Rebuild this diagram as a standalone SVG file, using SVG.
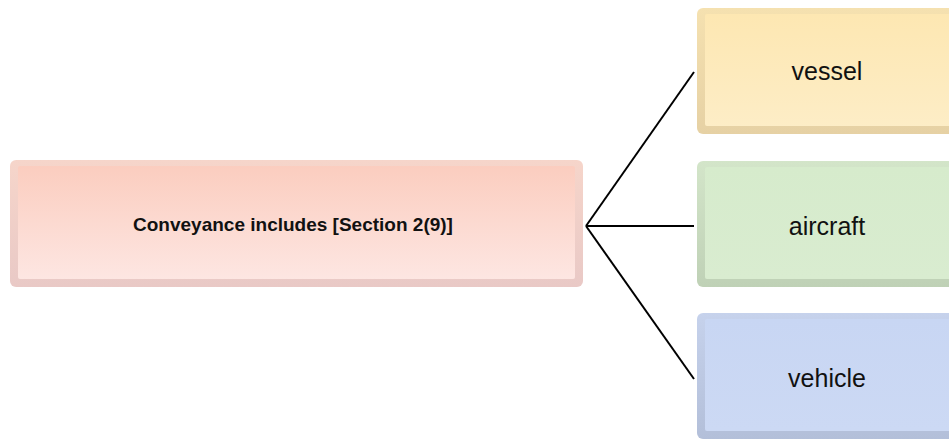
<svg xmlns="http://www.w3.org/2000/svg" width="949" height="441" viewBox="0 0 949 441">
<defs>
<linearGradient id="gPink" x1="0" y1="0" x2="0" y2="1">
<stop offset="0" stop-color="#fbcdbf"/><stop offset="1" stop-color="#fde6e2"/>
</linearGradient>
<linearGradient id="gPinkE" x1="0" y1="0" x2="0" y2="1">
<stop offset="0" stop-color="#f6d5ca"/><stop offset="1" stop-color="#e9c9c6"/>
</linearGradient>
<linearGradient id="gYel" x1="0" y1="0" x2="0" y2="1">
<stop offset="0" stop-color="#fde7b2"/><stop offset="1" stop-color="#fdedc6"/>
</linearGradient>
<linearGradient id="gYelE" x1="0" y1="0" x2="0" y2="1">
<stop offset="0" stop-color="#f5e1b0"/><stop offset="1" stop-color="#e6d1a4"/>
</linearGradient>
<linearGradient id="gGrn" x1="0" y1="0" x2="0" y2="1">
<stop offset="0" stop-color="#d6ebcc"/><stop offset="1" stop-color="#d9ecd0"/>
</linearGradient>
<linearGradient id="gGrnE" x1="0" y1="0" x2="0" y2="1">
<stop offset="0" stop-color="#d3e5c9"/><stop offset="1" stop-color="#bfd1b6"/>
</linearGradient>
<linearGradient id="gBlu" x1="0" y1="0" x2="0" y2="1">
<stop offset="0" stop-color="#c8d6f3"/><stop offset="1" stop-color="#ccd9f4"/>
</linearGradient>
<linearGradient id="gBluE" x1="0" y1="0" x2="0" y2="1">
<stop offset="0" stop-color="#c6d2ec"/><stop offset="1" stop-color="#b3bfd9"/>
</linearGradient>
</defs>
<style>
.lbl{font-family:"Liberation Sans",Arial,sans-serif;font-size:25px;fill:#111;text-anchor:middle;dominant-baseline:central}
.main{font-weight:bold;font-size:19px}
.con{stroke:#000;stroke-width:2;fill:none}
</style>
<g id="connectors">
<line class="con" x1="586" y1="226" x2="694" y2="72"/>
<line class="con" x1="586" y1="226" x2="694" y2="226"/>
<line class="con" x1="586" y1="226" x2="694" y2="379"/>
</g>
<g id="node-conveyance">
<rect x="10" y="160" width="573" height="127" rx="6" fill="url(#gPinkE)"/>
<rect x="18" y="166" width="557" height="113" rx="2" fill="url(#gPink)"/>
<text class="lbl main" x="293" y="224">Conveyance includes [Section 2(9)]</text>
</g>
<g id="node-vessel">
<rect x="697" y="8" width="265" height="126" rx="6" fill="url(#gYelE)"/>
<rect x="705" y="14" width="249" height="112" rx="2" fill="url(#gYel)"/>
<text class="lbl" x="827" y="71">vessel</text>
</g>
<g id="node-aircraft">
<rect x="697" y="161" width="265" height="126" rx="6" fill="url(#gGrnE)"/>
<rect x="705" y="167" width="249" height="112" rx="2" fill="url(#gGrn)"/>
<text class="lbl" x="827" y="226">aircraft</text>
</g>
<g id="node-vehicle">
<rect x="697" y="313" width="265" height="126" rx="6" fill="url(#gBluE)"/>
<rect x="705" y="319" width="249" height="112" rx="2" fill="url(#gBlu)"/>
<text class="lbl" x="827" y="378">vehicle</text>
</g>
</svg>
